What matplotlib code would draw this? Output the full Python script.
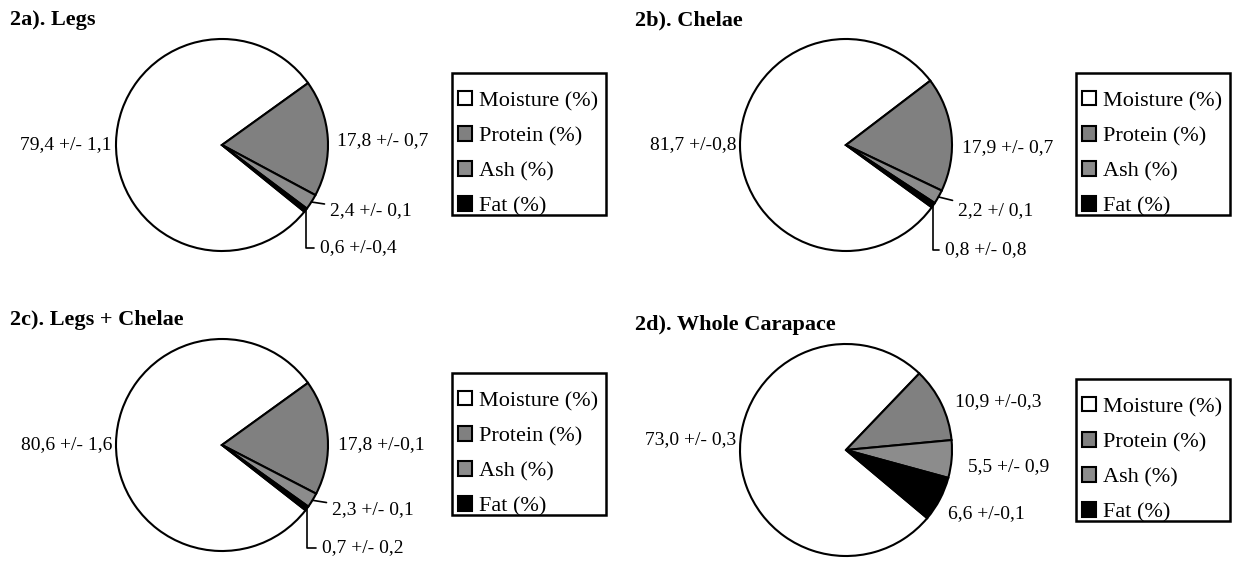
import matplotlib
matplotlib.use('Agg')
import numpy as np
import matplotlib.pyplot as plt
from matplotlib.patches import Patch, Rectangle

plt.rcParams['font.family'] = ['Liberation Serif', 'DejaVu Serif']

# --------------------------------------------------------------
# data (composition in %, mean +/- sd as printed)
titles = ['2a). Legs', '2b). Chelae', '2c). Legs + Chelae', '2d). Whole Carapace']
components = ['Moisture (%)', 'Protein (%)', 'Ash (%)', 'Fat (%)']
moisture = [79.4, 81.7, 80.6, 73.0]
protein = [17.8, 17.9, 17.8, 10.9]
ash = [2.4, 2.2, 2.3, 5.5]
fat = [0.6, 0.8, 0.7, 6.6]
value_labels = [
    ['79,4 +/- 1,1', '17,8 +/- 0,7', '2,4 +/- 0,1', '0,6 +/-0,4'],
    ['81,7 +/-0,8', '17,9 +/- 0,7', '2,2 +/ 0,1', '0,8 +/- 0,8'],
    ['80,6 +/- 1,6', '17,8 +/-0,1', '2,3 +/- 0,1', '0,7 +/- 0,2'],
    ['73,0 +/- 0,3', '10,9 +/-0,3', '5,5 +/- 0,9', '6,6 +/-0,1'],
]
colors = ['white', '#808080', '#8c8c8c', 'black']

# --------------------------------------------------------------
# layout (pixel positions in the 1239x565 picture, y from top)
W, H = 1239, 565
R = 106
centers = [(222, 145), (846, 145), (222, 445), (846, 450)]
start_angles = [-39, -36, -38, -40]
title_pos = [(10, 20), (635, 20), (10, 320), (635, 325)]
legend_pos = [(452, 73), (1076, 73), (452, 373), (1076, 379)]
legend_size = (154, 142)
# label anchors: moisture (right aligned), protein, ash, fat (left aligned)
label_pos = [
    [(112, 145), (337, 141), (330, 211), (320, 248)],
    [(736, 145), (962, 148), (958, 211), (945, 250)],
    [(112, 445), (338, 445), (332, 510), (322, 548)],
    [(736, 440), (955, 402), (968, 467), (948, 514)],
]
leaders = [True, True, True, False]

fig = plt.figure(figsize=(W / 100, H / 100), dpi=100)
ax = fig.add_axes([0, 0, 1, 1])


def Y(y):
    return H - y


def edge_point(wedge, cx, cy):
    th = np.deg2rad((wedge.theta1 + wedge.theta2) / 2)
    return cx + R * np.cos(th), Y(cy) + R * np.sin(th)


for i in range(4):
    vals = [moisture[i], protein[i], ash[i], fat[i]]
    cx, cy = centers[i]
    wedges, _ = ax.pie(vals, colors=colors, center=(cx, Y(cy)), radius=R,
                       startangle=start_angles[i], counterclock=False, frame=True,
                       wedgeprops=dict(edgecolor='black', linewidth=1.5))

    ax.text(title_pos[i][0], Y(title_pos[i][1]), titles[i], fontsize=16,
            fontweight='bold', ha='left', va='center')

    lp = label_pos[i]
    ax.text(lp[0][0], Y(lp[0][1]), value_labels[i][0], fontsize=14, ha='right', va='center')
    ax.text(lp[1][0], Y(lp[1][1]), value_labels[i][1], fontsize=14, ha='left', va='center')
    if leaders[i]:
        # ash: straight leader from the slice edge
        ax.annotate(value_labels[i][2], xy=edge_point(wedges[2], cx, cy),
                    xytext=(lp[2][0], Y(lp[2][1])), fontsize=14, ha='left', va='center',
                    arrowprops=dict(arrowstyle='-', color='black', lw=1.2,
                                    shrinkA=2, shrinkB=0))
        # fat: elbow leader
        ax.annotate(value_labels[i][3], xy=edge_point(wedges[3], cx, cy),
                    xytext=(lp[3][0], Y(lp[3][1])), fontsize=14, ha='left', va='center',
                    arrowprops=dict(arrowstyle='-', color='black', lw=1.2,
                                    shrinkA=2, shrinkB=0,
                                    connectionstyle='angle,angleA=180,angleB=90,rad=0'))
    else:
        ax.text(lp[2][0], Y(lp[2][1]), value_labels[i][2], fontsize=14, ha='left', va='center')
        ax.text(lp[3][0], Y(lp[3][1]), value_labels[i][3], fontsize=14, ha='left', va='center')

    # legend: own frame, entries placed inside it
    lx, ly = legend_pos[i]
    ax.add_patch(Rectangle((lx, Y(ly + legend_size[1])), legend_size[0], legend_size[1],
                           facecolor='white', edgecolor='black', linewidth=1.8, zorder=3))
    handles = [Patch(facecolor=c, edgecolor='black', linewidth=1.5) for c in colors]
    leg = fig.legend(handles, components, loc='upper left',
                     bbox_to_anchor=((lx + 6) / W, 1 - (ly + 18) / H),
                     fontsize=16, frameon=False, handlelength=0.62, handleheight=0.62,
                     handletextpad=0.33, labelspacing=0.68, borderpad=0,
                     borderaxespad=0)

ax.set_xlim(0, W)
ax.set_ylim(0, H)
ax.set_aspect('equal')
ax.axis('off')

fig.savefig('out.png', dpi=100)
